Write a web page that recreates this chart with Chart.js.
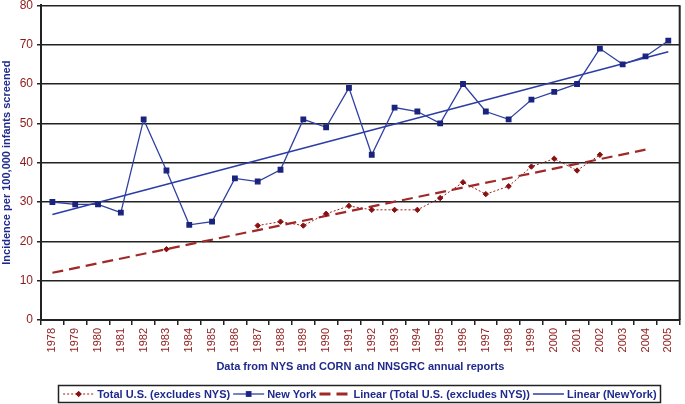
<!DOCTYPE html>
<html>
<head>
<meta charset="utf-8">
<script src="https://cdn.jsdelivr.net/npm/chart.js@4"></script>
<style>
  body { margin: 0; background: #fff; }
  #wrap { width: 685px; height: 404px; position: relative; }
</style>
</head>
<body>
<div id="wrap"><canvas id="myChart"></canvas></div>
<script>
const years = ['1978','1979','1980','1981','1982','1983','1984','1985','1986','1987','1988','1989','1990','1991',
  '1992','1993','1994','1995','1996','1997','1998','1999','2000','2001','2002','2003','2004','2005'];

const newYork = [30, 29.4, 29.4, 27.3, 51, 38, 24.2, 25, 36, 35.2, 38.2, 51, 49, 59,
  42, 54, 53, 50, 60, 53, 51, 56, 58, 60, 69, 65, 67, 71];

const totalUS = [null, null, null, null, null, 18, null, null, null, 24, 25, 24, 27, 29,
  28, 28, 28, 31, 35, 32, 34, 39, 41, 38, 42, null, null, null];

// trend lines: only the end points, joined by spanGaps
const linearUS = [12, null, null, null, null, null, null, null, null, null, null, null, null, null,
  null, null, null, null, null, null, null, null, null, null, null, null, 43.3, null];
const linearNY = [26.8, null, null, null, null, null, null, null, null, null, null, null, null, null,
  null, null, null, null, null, null, null, null, null, null, null, null, null, 68.2];

const yTicks = [0, 80, 10]; // min, max, step

const FONT = "'Liberation Sans', Arial, sans-serif";
const navy = '#1f2a8c';
const darkRed = '#8e1a1a';

const frame = {
  id: 'frame',
  afterDatasetsDraw(chart) {
    const { ctx, chartArea: a } = chart;
    ctx.save();
    ctx.strokeStyle = '#222';
    ctx.lineWidth = 2;
    ctx.beginPath();
    ctx.moveTo(a.right, a.top);
    ctx.lineTo(a.right, a.bottom);
    ctx.stroke();
    ctx.restore();
  }
};

const boxLegend = {
  id: 'boxLegend',
  afterDraw(chart) {
    const ctx = chart.ctx;
    const sym = 33, gap = 2, y = 394;
    ctx.save();
    ctx.font = 'bold 11px ' + FONT;
    let total = 0;
    chart.data.datasets.forEach(ds => { total += sym + gap + ctx.measureText(ds.label).width + gap; });
    const a = chart.chartArea;
    let x = (a.left + a.right) / 2 - total / 2;
    ctx.strokeStyle = '#222';
    ctx.lineWidth = 1.5;
    ctx.strokeRect(Math.round(x - 4) + 0.5, 385.5, Math.round(total + 6), 17);
    chart.data.datasets.forEach(ds => {
      ctx.strokeStyle = ds.borderColor;
      ctx.lineWidth = ds.legendWidth || ds.borderWidth;
      ctx.setLineDash(ds.borderDash || []);
      ctx.beginPath();
      ctx.moveTo(x + 1, y);
      ctx.lineTo(x + sym - 1, y);
      ctx.stroke();
      ctx.setLineDash([]);
      if (ds.pointRadius) {
        Chart.helpers.drawPoint(ctx, {
          pointStyle: ds.pointStyle, radius: ds.pointRadius, borderWidth: 1
        }, x + sym / 2, y);
        ctx.fillStyle = ds.pointBackgroundColor;
        ctx.strokeStyle = ds.pointBorderColor;
        ctx.fill();
      }
      x += sym + gap;
      ctx.fillStyle = navy;
      ctx.textBaseline = 'middle';
      ctx.fillText(ds.label, x, y + 0.5);
      x += ctx.measureText(ds.label).width + gap;
    });
    ctx.restore();
  }
};

new Chart(document.getElementById('myChart'), {
  type: 'line',
  data: {
    labels: years,
    datasets: [{
      label: 'Total U.S. (excludes NYS)',
      data: totalUS,
      borderColor: '#9b1f1f',
      borderWidth: 1,
      borderDash: [2, 2],
      pointStyle: 'rectRot',
      pointRadius: 2.7,
      pointBackgroundColor: '#8a1010',
      pointBorderColor: '#8a1010',
      spanGaps: false,
      order: 2
    }, {
      label: 'New York',
      data: newYork,
      borderColor: '#3040a2',
      borderWidth: 1.3,
      pointStyle: 'rect',
      pointRadius: 3.2,
      pointBackgroundColor: '#1a237e',
      pointBorderColor: '#1a237e',
      order: 1
    }, {
      label: 'Linear (Total U.S. (excludes NYS))',
      data: linearUS,
      borderColor: '#a02828',
      borderWidth: 2.2,
      legendWidth: 3,
      borderDash: [11, 6],
      pointRadius: 0,
      spanGaps: true,
      order: 3
    }, {
      label: 'Linear (NewYork)',
      data: linearNY,
      borderColor: '#2c3ca6',
      borderWidth: 1.5,
      pointRadius: 0,
      spanGaps: true,
      order: 4
    }]
  },
  options: {
    responsive: true,
    maintainAspectRatio: false,
    animation: false,
    layout: { padding: { top: 5, right: 1, left: 0, bottom: 0 } },
    plugins: {
      legend: { display: false },
      tooltip: { enabled: false }
    },
    scales: {
      x: {
        offset: true,
        grid: { offset: true, drawOnChartArea: false, tickLength: 5, color: '#222', lineWidth: 1.5 },
        border: { color: '#222', width: 2 },
        ticks: {
          autoSkip: false, minRotation: 90, maxRotation: 90, padding: 3,
          color: darkRed, font: { family: FONT, size: 11 }
        },
        title: {
          display: true,
          text: 'Data from NYS and CORN and NNSGRC annual reports',
          color: navy,
          font: { family: FONT, size: 11, weight: 'bold' },
          padding: { top: 0, bottom: 30 }
        },
        afterFit(s) { s.height = 84; s.paddingLeft = 0; s.paddingRight = 0; }
      },
      y: {
        min: yTicks[0],
        max: yTicks[1],
        ticks: {
          stepSize: yTicks[2], padding: 4,
          color: darkRed, font: { family: FONT, size: 12 }
        },
        grid: { color: '#222', lineWidth: 1.5, tickLength: 4 },
        border: { color: '#222', width: 2 },
        title: {
          display: true,
          text: 'Incidence per 100,000 infants screened',
          color: navy,
          font: { family: FONT, size: 11, weight: 'bold' },
          padding: { top: 0, bottom: 0 }
        },
        afterFit(s) { s.width = 41; s.paddingTop = 0; s.paddingBottom = 0; }
      }
    }
  },
  plugins: [frame, boxLegend]
});
</script>
</body>
</html>
